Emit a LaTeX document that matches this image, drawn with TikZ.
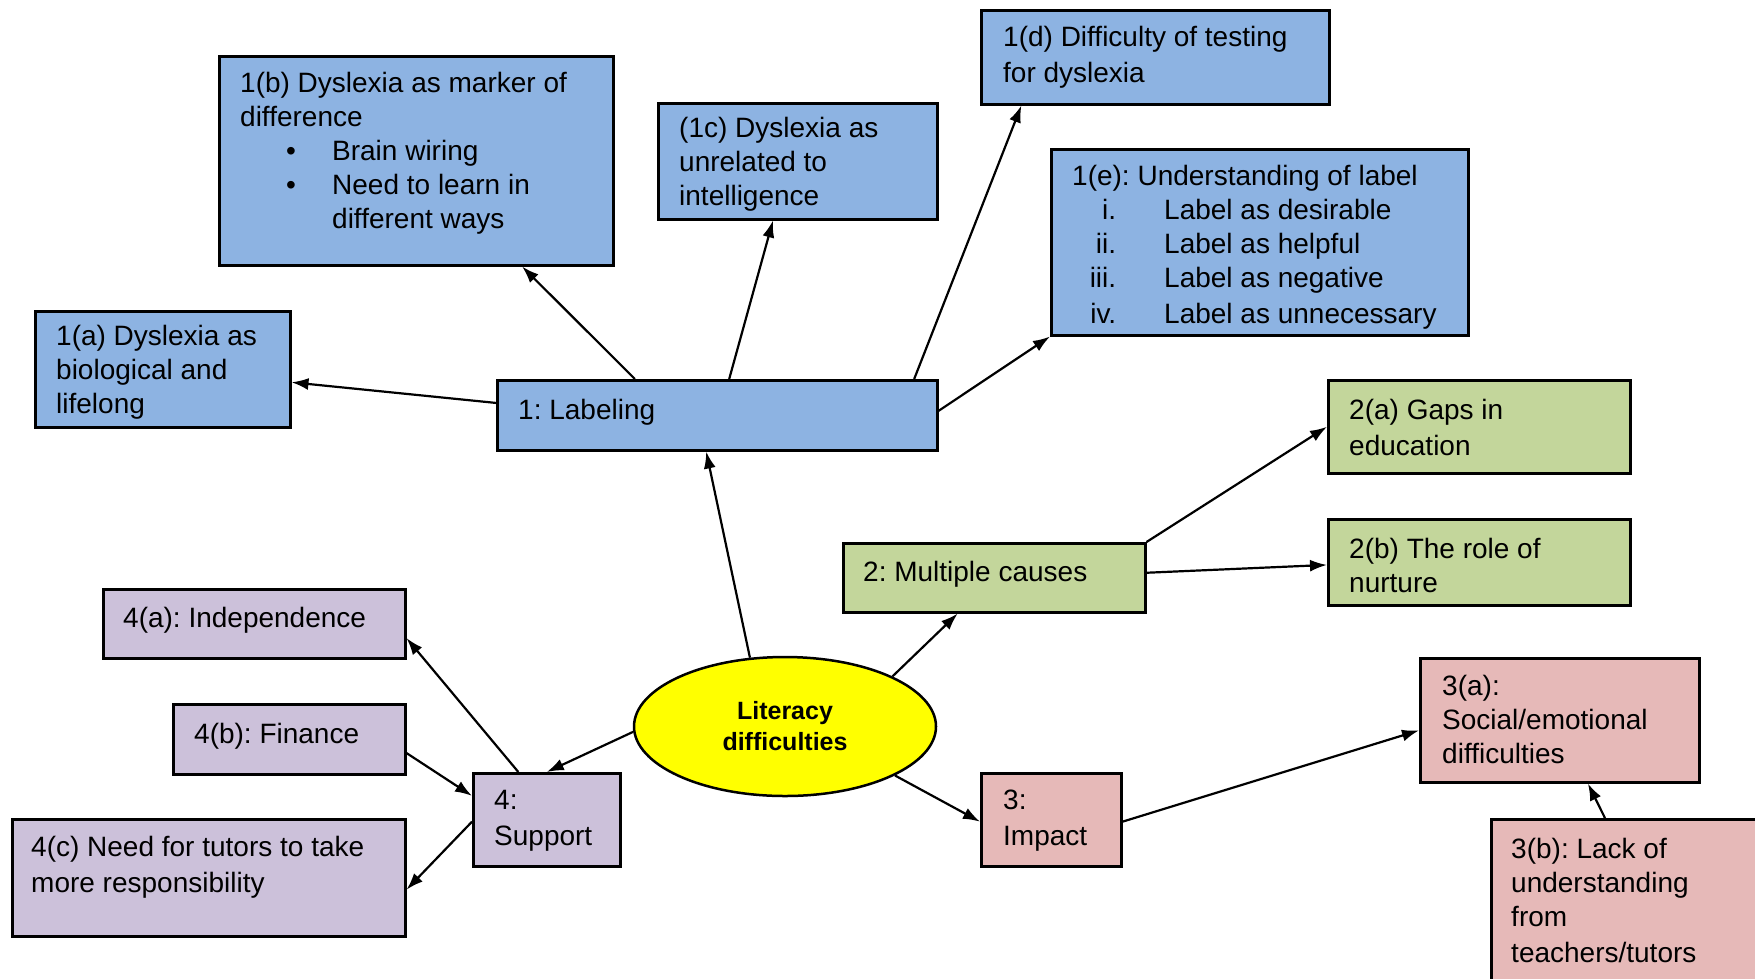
\documentclass[tikz,border=0pt]{standalone}
\usepackage{fontspec}
\setmainfont{Liberation Sans}
\usetikzlibrary{shapes.geometric,arrows.meta,calc}
\definecolor{blueF}{HTML}{8DB3E2}
\definecolor{greenF}{HTML}{C3D69B}
\definecolor{pinkF}{HTML}{E6B9B8}
\definecolor{purpF}{HTML}{CCC1DA}
\definecolor{yelF}{HTML}{FFFF00}
\frenchspacing
\newcommand\fsz{\fontsize{28pt}{34pt}\selectfont\frenchspacing}
\newcommand\itm[2]{\makebox[44pt][r]{#1}\hspace*{48pt}#2}
\newcommand\bul[1]{\makebox[92pt][l]{\hspace*{46pt}•}#1}
\begin{document}
\begin{tikzpicture}[x=1pt,y=-1pt,
  box/.style={draw=black,line width=2.5pt,rectangle,inner sep=0pt,anchor=north west},
  bluebox/.style={box,fill=blueF},
  greenbox/.style={box,fill=greenF},
  pinkbox/.style={box,fill=pinkF},
  purpbox/.style={box,fill=purpF},
  txt/.style={anchor=west,align=left,inner sep=0pt,font=\fsz,yshift=-3.5pt},
  arr/.style={line width=2.2pt,-{Latex[length=17pt,width=12pt]}}]
\useasboundingbox (0,0) rectangle (1755,978);
\clip (0,0) rectangle (1755,978);
% boxes
\node[bluebox,minimum width=255pt,minimum height=116pt] (b1a) at (34,310) {};
\node[bluebox,minimum width=394pt,minimum height=209pt] (b1b) at (218,55) {};
\node[bluebox,minimum width=279pt,minimum height=116pt] (b1c) at (657,102) {};
\node[bluebox,minimum width=348pt,minimum height=94pt] (b1d) at (980,9) {};
\node[bluebox,minimum width=417pt,minimum height=186pt] (b1e) at (1050,148) {};
\node[bluebox,minimum width=440pt,minimum height=70pt] (lab) at (496,379) {};
\node[greenbox,minimum width=302pt,minimum height=93pt] (b2a) at (1327,379) {};
\node[greenbox,minimum width=302pt,minimum height=86pt] (b2b) at (1327,518) {};
\node[greenbox,minimum width=302pt,minimum height=69pt] (m2) at (842,542) {};
\node[purpbox,minimum width=302pt,minimum height=69pt] (b4a) at (102,588) {};
\node[purpbox,minimum width=232pt,minimum height=70pt] (b4b) at (172,703) {};
\node[purpbox,minimum width=393pt,minimum height=117pt] (b4c) at (11,818) {};
\node[purpbox,minimum width=147pt,minimum height=93pt] (sup) at (472,772) {};
\node[pinkbox,minimum width=140pt,minimum height=93pt] (imp) at (980,772) {};
\node[pinkbox,minimum width=279pt,minimum height=124pt] (b3a) at (1419,657) {};
\node[pinkbox,minimum width=290pt,minimum height=200pt] (b3b) at (1490,818) {};
\node[ellipse,draw=black,fill=yelF,line width=2.5pt,minimum width=302pt,minimum height=139pt,inner sep=0pt,align=center,font=\fontsize{25pt}{31pt}\selectfont\bfseries] (ell) at (785,726.5) {Literacy\\difficulties};
% texts
\node[txt] (t1a) at (56,369) {1(a) Dyslexia as\\biological and\\lifelong};
\node[txt] (t1b) at (240,149.5) {1(b) Dyslexia as marker of\\difference\\\bul{Brain wiring}\\\bul{Need to learn in}\\\hspace*{92pt}different ways};
\node[txt] (t1c) at (679,161) {(1c) Dyslexia as\\unrelated to\\intelligence};
\node[txt] (t1d) at (1003,54) {1(d) Difficulty of testing\\[2pt]for dyslexia};
\node[txt] (t1e) at (1072,244) {1(e): Understanding of label\\\itm{i.}{Label as desirable}\\\itm{ii.}{Label as helpful}\\\itm{iii.}{Label as negative}\\[2pt]\itm{iv.}{Label as unnecessary}};
\node[txt] (tlab) at (518,409) {1: Labeling};
\node[txt] (t2a) at (1349,424) {2(a) Gaps in\\[2pt]education};
\node[txt] (t2b) at (1349,562) {2(b) The role of\\nurture};
\node[txt] (tm2) at (863,571) {2: Multiple causes};
\node[txt] (t4a) at (123,617) {4(a): Independence};
\node[txt] (t4b) at (194,733) {4(b): Finance};
\node[txt] (t4c) at (31,864) {4(c) Need for tutors to take\\[2pt]more responsibility};
\node[txt] (tsup) at (494,817) {4:\\[2pt]Support};
\node[txt] (timp) at (1003,817) {3:\\[2pt]Impact};
\node[txt] (t3a) at (1442,715.5) {3(a):\\Social/emotional\\difficulties};
\node[txt] (t3b) at (1511,896.5) {3(b): Lack of\\understanding\\from\\[2pt]teachers/tutors};
% connectors
\draw[arr] (ell.117) -- ($(lab.south west)!0.475!(lab.south east)$);
\draw[arr] ($(lab.north west)!0.33!(lab.south west)$) -- ($(b1a.north east)!0.61!(b1a.south east)$);
\draw[arr] ($(lab.north west)!0.314!(lab.north east)$) -- ($(b1b.south west)!0.767!(b1b.south east)$);
\draw[arr] ($(lab.north west)!0.527!(lab.north east)$) -- ($(b1c.south west)!0.412!(b1c.south east)$);
\draw[arr] ($(lab.north west)!0.945!(lab.north east)$) -- ($(b1d.south west)!0.118!(b1d.south east)$);
\draw[arr] ($(lab.north east)!0.44!(lab.south east)$) -- (b1e.south west);
\draw[arr] (ell.25) -- ($(m2.south west)!0.38!(m2.south east)$);
\draw[arr] (m2.north east) -- (b2a.west);
\draw[arr] ($(m2.north east)!0.43!(m2.south east)$) -- ($(b2b.north west)!0.53!(b2b.south west)$);
\draw[arr] (ell.-24) -- ($(imp.north west)!0.52!(imp.south west)$);
\draw[arr] ($(imp.north east)!0.52!(imp.south east)$) -- ($(b3a.north west)!0.58!(b3a.south west)$);
\draw[arr] ($(b3b.north west)!0.393!(b3b.north east)$) -- ($(b3a.south west)!0.6!(b3a.south east)$);
\draw[arr] (ell.182) -- (sup.north);
\draw[arr] ($(sup.north west)!0.31!(sup.north east)$) -- ($(b4a.north east)!0.7!(b4a.south east)$);
\draw[arr] ($(b4b.north east)!0.69!(b4b.south east)$) -- ($(sup.north west)!0.25!(sup.south west)$);
\draw[arr] ($(sup.north west)!0.52!(sup.south west)$) -- ($(b4c.north east)!0.6!(b4c.south east)$);
\end{tikzpicture}
\end{document}
